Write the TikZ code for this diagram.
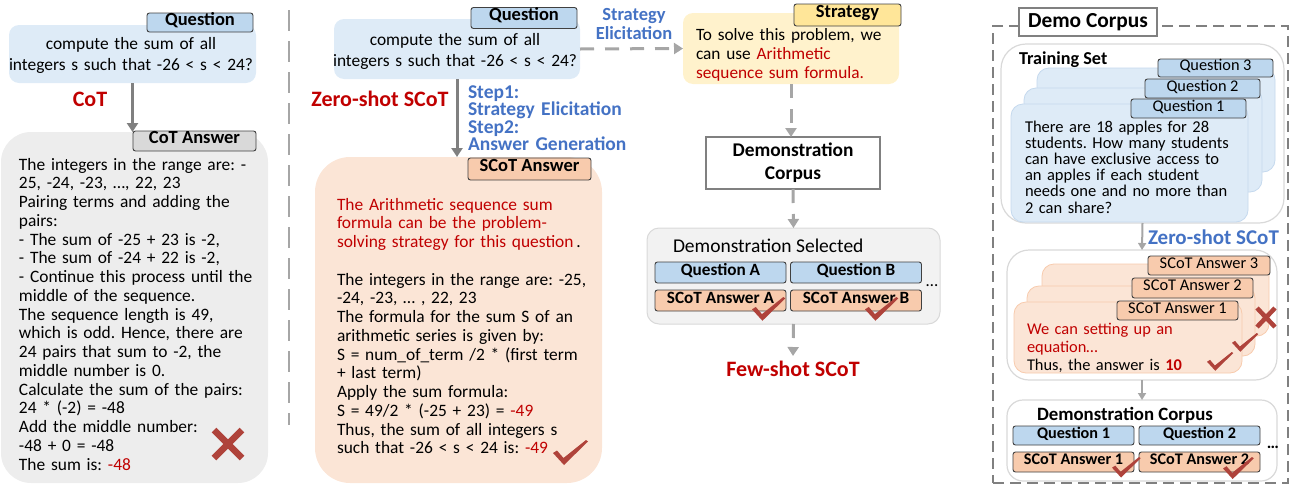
\documentclass[tikz,border=0pt]{standalone}
\usepackage{fontspec}
\setmainfont{Carlito}
\usetikzlibrary{arrows.meta,calc}
\frenchspacing
\definecolor{qfill}{HTML}{DEEBF7}
\definecolor{qlab}{HTML}{BDD7EE}
\definecolor{qcard}{HTML}{C5D9EE}
\definecolor{pfill}{HTML}{FBE5D6}
\definecolor{plab}{HTML}{F8CBAD}
\definecolor{gfill}{HTML}{EDEDED}
\definecolor{glab}{HTML}{D9D9D9}
\definecolor{sfill}{HTML}{FFF2CC}
\definecolor{slab}{HTML}{FFE699}
\definecolor{selfill}{HTML}{F2F2F2}
\definecolor{redt}{HTML}{C00000}
\definecolor{bluet}{HTML}{4472C4}
\definecolor{markc}{HTML}{AF433B}
\definecolor{arrg}{HTML}{808080}
\definecolor{arrl}{HTML}{A6A6A6}
\newcommand\fsz[2]{\fontsize{#1}{#2}\selectfont}
\begin{document}
\frenchspacing
\begin{tikzpicture}[x=1pt,y=-1pt,
  box/.style={rectangle, inner sep=0, outer sep=0},
  lbl/.style={rectangle, draw=black!75, line width=0.9pt, rounded corners=2.5pt, inner sep=0, text height=0.68em, text depth=0.18em, font=\bfseries\fsz{18.5}{20}},
  txt/.style={inner sep=0, outer sep=0, align=left, anchor=base west},
  gar/.style={draw=arrg, line width=3pt, -{Triangle[width=11pt,length=9pt]}},
  dar/.style={draw=arrl, line width=3pt, dash pattern=on 14pt off 11pt, -{Triangle[width=11pt,length=9pt]}},
  tar/.style={draw=arrl, line width=2pt, -{Triangle[width=8pt,length=7pt]}},
  chk/.pic={\fill[markc] (0,13) -- (4,10.5) -- (10.5,18) -- (33,0) -- (35,1.5) -- (11,25) -- cycle;}
]
\useasboundingbox (0,0) rectangle (1294,485);

% ---------------- Left panel: CoT ----------------
\node[box, fill=qfill, rounded corners=10pt, minimum width=247, minimum height=58] (qL) at (132.5,54) {};
\node[lbl, fill=qlab, minimum width=106, minimum height=19] (qLlab) at (200,22.5) {Question};
\node[txt, anchor=base, align=center, text width=250pt, font=\fsz{17.4}{21.5}] (qLt) at (131,49) {compute the sum of all\\integers s such that -26 < s < 24?};
\node[box, fill=gfill, rounded corners=30pt, minimum width=267, minimum height=351] (cotA) at (134.5,307.5) {};
\node[lbl, fill=glab, minimum width=123, minimum height=20] (cotlab) at (194.5,141) {CoT Answer};
\draw[gar] (qL.south) -- (qL.south |- cotA.north);
\node[inner sep=0, font=\bfseries\fsz{22}{22}, text=redt] (cotname) at (90,99) {CoT};
\node[txt, text width=260pt, font=\fsz{17.4}{18.75}] (cotT) at (19,170) {The integers in the range are: -\\25, -24, -23, …, 22, 23\\Pairing terms and adding the\\pairs:\\- The sum of -25 + 23 is -2,\\- The sum of -24 + 22 is -2,\\- Continue this process until the\\middle of the sequence.\\The sequence length is 49,\\which is odd. Hence, there are\\24 pairs that sum to -2, the\\middle number is 0.\\Calculate the sum of the pairs:\\24 * (-2) = -48\\Add the middle number:\\-48 + 0 = -48\\The sum is: \textcolor{redt}{-48}};
\draw[markc, line width=6.5pt] (214,430) -- (242,458) (214,458) -- (242,430);

% separator
\draw[arrl, line width=2.5pt, dash pattern=on 21pt off 10pt] (289,10) -- (289,425);

% ---------------- Middle panel: SCoT ----------------
\node[box, fill=qfill, rounded corners=10pt, minimum width=246, minimum height=60] (qM) at (457,49) {};
\node[lbl, fill=qlab, minimum width=106, minimum height=21] (qMlab) at (524,18) {Question};
\node[txt, anchor=base, align=center, text width=250pt, font=\fsz{17.4}{21.5}] (qMt) at (455,45) {compute the sum of all\\integers s such that -26 < s < 24?};
\node[box, fill=pfill, rounded corners=35pt, minimum width=287, minimum height=326] (scot) at (458.5,320) {};
\node[lbl, fill=plab, minimum width=123, minimum height=22] (scotlab) at (529.5,169) {SCoT Answer};
\draw[gar] (qM.south) -- (qM.south |- scot.north);
\node[inner sep=0, font=\bfseries\fsz{22}{22}, text=redt] (zsname) at (380,99) {Zero-shot SCoT};
\node[txt, text width=200pt, font=\bfseries\fsz{19.5}{17.6}, text=bluet] (steps) at (468,98) {Step1:\\Strategy Elicitation\\Step2:\\Answer Generation};
\node[txt, text width=270pt, font=\fsz{17.4}{18.75}] (scotT) at (337,210) {\textcolor{redt}{The Arithmetic sequence sum}\\\textcolor{redt}{formula can be the problem-}\\\textcolor{redt}{solving strategy for this question}\,.\\[18.75pt]The integers in the range are: -25,\\-24, -23, … , 22, 23\\The formula for the sum S of an\\arithmetic series is given by:\\S = num\_of\_term /2 * (first term\\+ last term)\\Apply the sum formula:\\S = 49/2 * (-25 + 23) = \textcolor{redt}{-49}\\Thus, the sum of all integers s\\such that -26 < s < 24 is: \textcolor{redt}{-49}};
\pic at (553,440) {chk};

% strategy
\node[box, fill=sfill, rounded corners=10pt, minimum width=216, minimum height=71] (strat) at (791,48.5) {};
\node[lbl, fill=slab, minimum width=107, minimum height=22] (stratlab) at (847.5,15) {Strategy};
\node[txt, text width=210pt, font=\fsz{17.3}{19}] (stratT) at (696,40) {To solve this problem, we\\can use \textcolor{redt}{Arithmetic}\\\textcolor{redt}{sequence sum formula.}};
\draw[dar] (qM.east) -- (strat.west);
\node[txt, anchor=base, align=center, text width=100pt, font=\bfseries\fsz{18.5}{19}, text=bluet] (selab) at (634,20) {Strategy\\Elicitation};

% demonstration corpus & selected
\node[box, draw=arrg, fill=white, line width=1.5pt, minimum width=174, minimum height=52, align=center, font=\bfseries\fsz{19.4}{23}] (dc) at (793,163) {Demonstration\\Corpus};
\draw[dar] (strat.south) -- (strat.south |- dc.north);
\node[box, fill=selfill, draw=glab, line width=1pt, rounded corners=12pt, minimum width=293, minimum height=96] (dsel) at (793.5,276) {};
\draw[dar] (dc.south) -- (dsel.north);
\node[txt, font=\fsz{19.5}{20}] (dselT) at (673,252) {Demonstration Selected};
\node[lbl, fill=qlab, minimum width=131, minimum height=21, font=\bfseries\fsz{17.2}{18}] (qa) at (720.5,272.5) {Question A};
\node[lbl, fill=qlab, minimum width=131, minimum height=21, font=\bfseries\fsz{17.2}{18}] (qb) at (856,272.5) {Question B};
\node[lbl, fill=plab, minimum width=131, minimum height=21, font=\bfseries\fsz{17.2}{18}] (sa) at (720.5,300.5) {SCoT Answer A};
\node[lbl, fill=plab, minimum width=131, minimum height=21, font=\bfseries\fsz{17.2}{18}] (sb) at (856,300.5) {SCoT Answer B};
\node[inner sep=0, font=\fsz{17}{17}] (dotsM) at (932,286) {…};
\pic[scale=0.95] at (752,297) {chk};
\pic[scale=0.95] at (865,297) {chk};
\node[inner sep=0, inner ysep=5pt, font=\bfseries\fsz{22}{22}, text=redt] (few) at (793,369) {Few-shot SCoT};
\draw[dar] (dsel.south) -- (few.north);

% ---------------- Right panel: Demo Corpus ----------------
\node[box, draw=arrg, line width=1.5pt, dash pattern=on 11pt off 6pt, minimum width=295, minimum height=457] (outer) at (1140.5,254.5) {};
\node[box, draw=arrg, fill=white, line width=1.5pt, minimum width=138, minimum height=28, font=\bfseries\fsz{21.4}{22}] (dclab) at (1088,22) {Demo Corpus};

\node[box, draw=glab, fill=white, line width=1.2pt, rounded corners=25pt, minimum width=283, minimum height=179] (train) at (1142.5,133.5) {};
\node[txt, font=\bfseries\fsz{18.2}{20}] (trainT) at (1019,64) {Training Set};
\node[box, fill=qfill, draw=qcard, line width=0.8pt, rounded corners=12pt, minimum width=238, minimum height=104] (c3) at (1156,120) {};
\node[lbl, fill=qlab, minimum width=115, minimum height=18, font=\fsz{16.3}{17}] (q3) at (1215.5,68) {Question 3};
\node[box, fill=qfill, draw=qcard, line width=0.8pt, rounded corners=12pt, minimum width=238, minimum height=104] (c2) at (1143,140) {};
\node[lbl, fill=qlab, minimum width=115, minimum height=19, font=\fsz{16.3}{17}] (q2) at (1202.5,88.5) {Question 2};
\node[box, fill=qfill, draw=qcard, line width=0.8pt, rounded corners=12pt, minimum width=237, minimum height=118] (c1) at (1129.5,163) {};
\node[lbl, fill=qlab, minimum width=115, minimum height=19, font=\fsz{16.3}{17}] (q1) at (1188.5,108.5) {Question 1};
\node[txt, text width=225pt, font=\fsz{16.5}{16.2}] (c1T) at (1025,132) {There are 18 apples for 28\\students. How many students\\can have exclusive access to\\an apples if each student\\needs one and no more than\\2 can share?};

\node[box, draw=glab, fill=white, line width=1.2pt, rounded corners=22pt, minimum width=270, minimum height=130] (ans) at (1142,315) {};
\draw[tar] (train.south) -- (ans.north);
\node[txt, font=\bfseries\fsz{21}{21}, text=bluet] (zsr) at (1148,244) {Zero-shot SCoT};
\node[box, fill=pfill, draw=plab, line width=0.8pt, rounded corners=12pt, minimum width=227, minimum height=72] (a3) at (1155.5,300) {};
\node[lbl, fill=plab, minimum width=122, minimum height=19, font=\fsz{16.4}{17}] (a3l) at (1209,265.5) {SCoT Answer 3};
\node[box, fill=pfill, draw=plab, line width=0.8pt, rounded corners=12pt, minimum width=228, minimum height=70] (a2) at (1141,321) {};
\node[lbl, fill=plab, minimum width=121, minimum height=20, font=\fsz{16.4}{17}] (a2l) at (1192.5,288) {SCoT Answer 2};
\node[box, fill=pfill, draw=plab, line width=0.8pt, rounded corners=12pt, minimum width=228, minimum height=71] (a1) at (1128,337.5) {};
\node[lbl, fill=plab, minimum width=121, minimum height=19, font=\fsz{16.4}{17}] (a1l) at (1177.5,310.5) {SCoT Answer 1};
\node[txt, text width=220pt, font=\fsz{16.4}{18}] (a1T) at (1027,334) {\textcolor{redt}{We can setting up an}\\\textcolor{redt}{equation…}\\Thus, the answer is \textcolor{redt}{\textbf{10}}};
\draw[markc, line width=4.5pt] (1257,308) -- (1275,327) (1257,327) -- (1275,308);
\pic[scale=0.75] at (1232,333) {chk};
\pic[scale=0.75] at (1207,352) {chk};

\node[box, draw=glab, fill=white, line width=1.2pt, rounded corners=16pt, minimum width=270, minimum height=81] (dcR) at (1142,440.5) {};
\draw[tar] (ans.south) -- (dcR.north);
\node[txt, font=\bfseries\fsz{18.8}{20}] (dcRT) at (1037,420) {Demonstration Corpus};
\node[lbl, fill=qlab, minimum width=121, minimum height=19, font=\bfseries\fsz{16.2}{17}] (rq1) at (1073.5,435.5) {Question 1};
\node[lbl, fill=qlab, minimum width=121, minimum height=19, font=\bfseries\fsz{16.2}{17}] (rq2) at (1199.5,435.5) {Question 2};
\node[lbl, fill=plab, minimum width=121, minimum height=20, font=\bfseries\fsz{16.2}{17}] (ra1) at (1073.5,462) {SCoT Answer 1};
\node[lbl, fill=plab, minimum width=121, minimum height=20, font=\bfseries\fsz{16.2}{17}] (ra2) at (1199.5,462) {SCoT Answer 2};
\node[inner sep=0, font=\bfseries\fsz{17}{17}] (dotsR) at (1273,447) {…};
\pic[scale=0.82] at (1112,457) {chk};
\pic[scale=0.88] at (1223,457) {chk};
\end{tikzpicture}
\end{document}
